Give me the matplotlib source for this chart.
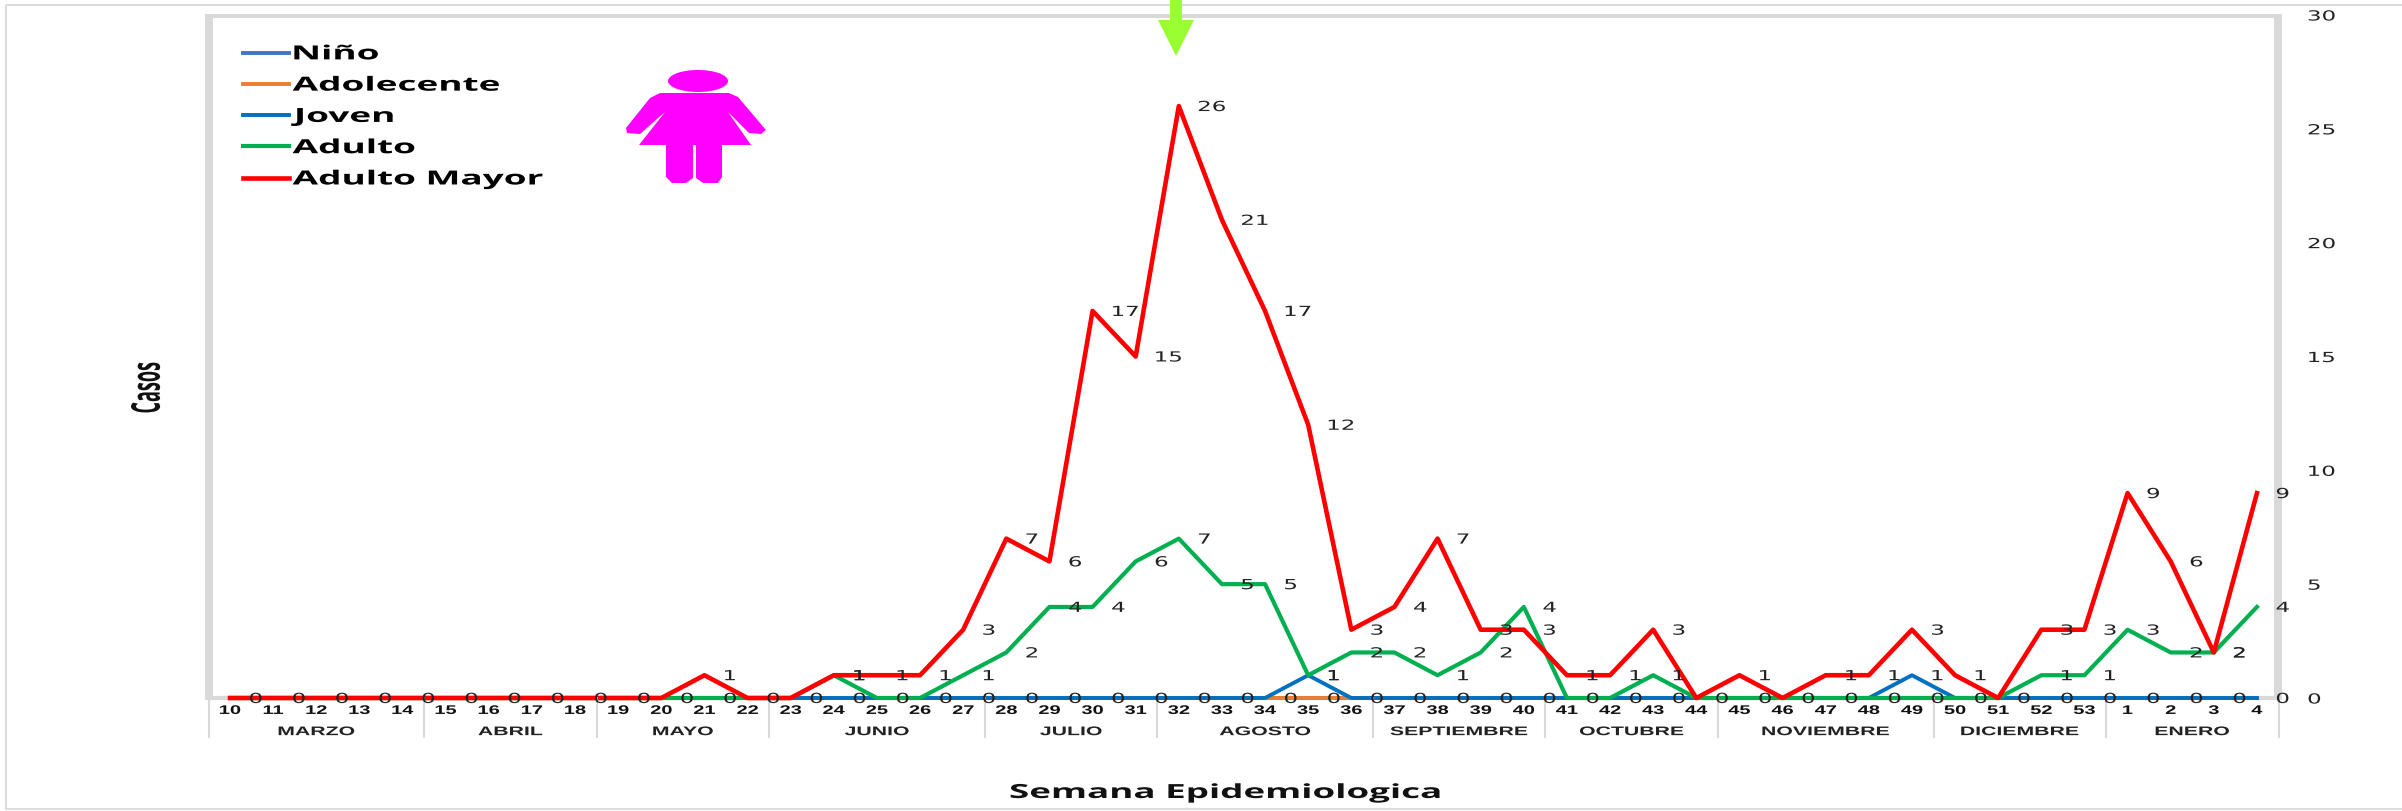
import numpy as np
import matplotlib
matplotlib.use("Agg")
import matplotlib.pyplot as plt
import matplotlib.patheffects as pe
from matplotlib.patches import Polygon, Ellipse, Rectangle
from matplotlib.transforms import Affine2D

weeks = [10, 11, 12, 13, 14, 15, 16, 17, 18, 19, 20, 21, 22, 23, 24, 25, 26, 27, 28, 29, 30, 31, 32, 33,
         34, 35, 36, 37, 38, 39, 40, 41, 42, 43, 44, 45, 46, 47, 48, 49, 50, 51, 52, 53, 1, 2, 3, 4]
months = ["MARZO", "ABRIL", "MAYO", "JUNIO", "JULIO", "AGOSTO", "SEPTIEMBRE", "OCTUBRE", "NOVIEMBRE", "DICIEMBRE", "ENERO"]
month_len = [5, 4, 4, 5, 4, 5, 4, 4, 5, 4, 4]

nino = [0] * 48
adolecente = [0] * 48
joven = [0, 0, 0, 0, 0, 0, 0, 0, 0, 0, 0, 0, 0, 0, 0, 0, 0, 0, 0, 0, 0, 0, 0, 0,
         0, 1, 0, 0, 0, 0, 0, 0, 0, 0, 0, 0, 0, 0, 0, 1, 0, 0, 0, 0, 0, 0, 0, 0]
adulto = [0, 0, 0, 0, 0, 0, 0, 0, 0, 0, 0, 0, 0, 0, 1, 0, 0, 1, 2, 4, 4, 6, 7, 5,
          5, 1, 2, 2, 1, 2, 4, 0, 0, 1, 0, 0, 0, 0, 0, 0, 0, 0, 1, 1, 3, 2, 2, 4]
adulto_mayor = [0, 0, 0, 0, 0, 0, 0, 0, 0, 0, 0, 1, 0, 0, 1, 1, 1, 3, 7, 6, 17, 15, 26, 21,
                17, 12, 3, 4, 7, 3, 3, 1, 1, 3, 0, 1, 0, 1, 1, 3, 1, 0, 3, 3, 9, 6, 2, 9]

W, H = 2402, 811
GRAY = "#d9d9d9"
TXT = "#222222"


# the reference picture was pulled wide, so its text is too
class StretchX(pe.AbstractPathEffect):
    def __init__(self, sx, anchor="center"):
        super().__init__()
        self.sx = sx
        self.anchor = anchor

    def draw_path(self, renderer, gc, tpath, affine, rgbFace=None):
        box = tpath.get_extents(affine)
        x0 = box.x0 if self.anchor == "left" else (box.x0 + box.x1) / 2
        wide = affine + Affine2D().translate(-x0, 0).scale(self.sx, 1).translate(x0, 0)
        renderer.draw_path(gc, tpath, wide, rgbFace)


fig = plt.figure(figsize=(W / 100, H / 100), dpi=100, facecolor="white")

# background layer in pixels: frames
bg = fig.add_axes([0, 0, 1, 1], zorder=0)
bg.set_xlim(0, W)
bg.set_ylim(H, 0)
bg.axis("off")
bg.add_patch(Rectangle((6, 5), W, 804, fill=False, ec="#dcdcdc", lw=1.5))
bg.add_patch(Rectangle((205, 14), 8, 686, fc=GRAY, ec="none"))
bg.add_patch(Rectangle((205, 14), 2077, 3.5, fc=GRAY, ec="none"))
bg.add_patch(Rectangle((2274, 14), 8, 686, fc=GRAY, ec="none"))

ax = fig.add_axes([208.5 / W, 1 - 698 / H, 2070 / W, 683 / H], zorder=2)
ax.patch.set_alpha(0)
x = np.arange(48)
ax.set_xlim(-0.5, 47.5)
ax.set_ylim(0, 30)
for s in ["left", "right", "top"]:
    ax.spines[s].set_visible(False)
ax.spines["bottom"].set_color(GRAY)
ax.spines["bottom"].set_linewidth(3)
ax.spines["bottom"].set_zorder(1)

ax.plot(x, nino, color="#4472c4", lw=2.8, label="Niño", clip_on=False)
ax.plot(x, adolecente, color="#ed7d31", lw=2.8, label="Adolecente", clip_on=False)
ax.plot(x, joven, color="#0070c0", lw=2.8, label="Joven", clip_on=False)
ax.plot(x, adulto, color="#00b050", lw=3, label="Adulto", clip_on=False)
ax.plot(x, adulto_mayor, color="#ff0000", lw=3.3, label="Adulto Mayor", clip_on=False)


def put_labels(vals, skip_zero=True):
    for i, v in enumerate(vals):
        if skip_zero and v == 0:
            continue
        ax.annotate(str(v), (i, v), xytext=(13.7, -0.7), textcoords="offset points",
                    ha="left", va="center", fontsize=10, color=TXT,
                    family="DejaVu Sans", annotation_clip=False,
                    path_effects=[StretchX(1.65, "left")])


put_labels(nino, skip_zero=False)
put_labels(joven)
put_labels(adulto)
put_labels(adulto_mayor)

ax.yaxis.tick_right()
ax.set_yticks(range(0, 31, 5))
ax.tick_params(axis="y", length=0, pad=21, labelsize=10, labelcolor=TXT)
for t in ax.get_yticklabels():
    t.set_path_effects([StretchX(1.65, "left")])
ax.set_xticks(x)
ax.set_xticklabels(weeks, fontsize=9, fontweight="bold", family="Liberation Sans", color="#111111")
ax.tick_params(axis="x", length=0, pad=5)
for t in ax.get_xticklabels():
    t.set_path_effects([StretchX(1.6)])

# month groups under the week labels
pos = 0
trans = ax.get_xaxis_transform()
ax.plot([-0.5, -0.5], [0, -0.057], transform=trans, color=GRAY, lw=1.5, clip_on=False)
for m, n in zip(months, month_len):
    ax.text(pos + (n - 1) / 2, -0.05, m, transform=trans, ha="center", va="center",
            fontsize=9, fontweight="bold", family="Liberation Sans", color="#222222",
            path_effects=[StretchX(1.7)])
    pos += n
    ax.plot([pos - 0.5, pos - 0.5], [0, -0.057], transform=trans, color=GRAY, lw=1.5, clip_on=False)

leg = ax.legend(loc="upper left", bbox_to_anchor=(0.0165, 0.957), frameon=False, handlelength=2.37,
                handletextpad=0.2, labelspacing=0.58, borderaxespad=0, borderpad=0,
                prop={"family": "Open Sans", "weight": "bold", "size": 14})
for t in leg.get_texts():
    t.set_path_effects([StretchX(1.9, "left")])

fig.text(1226 / W, 1 - 793 / H, "Semana Epidemiologica", ha="center", va="center",
         fontsize=14, fontweight="bold", family="Open Sans", color="#111111",
         path_effects=[StretchX(1.89)])
fig.text(147 / W, 1 - 388 / H, "Casos", ha="center", va="center", rotation=90,
         fontsize=13, family="Open Sans", fontweight="bold", color="#111111",
         path_effects=[StretchX(2.2)])

# overlay: arrow and woman icon, in pixels
top = fig.add_axes([0, 0, 1, 1], zorder=3)
top.set_xlim(0, W)
top.set_ylim(H, 0)
top.axis("off")
top.patch.set_alpha(0)
top.add_patch(Polygon([(1170, 0), (1182, 0), (1182, 20), (1194, 20), (1176, 56), (1158, 20), (1170, 20)],
                      closed=True, fc="#99ff33", ec="none"))
pink = "#ff00ff"
top.add_patch(Ellipse((698, 81), 60, 22, fc=pink, ec="none"))
top.add_patch(Polygon([(660, 93), (650, 98), (626, 128), (627, 133), (640, 134), (665, 112), (639, 145), (666, 145),
                       (666, 177), (672, 183), (686, 183), (693, 178), (693, 145), (696, 145), (696, 178),
                       (703, 183), (718, 183), (722, 177), (722, 145), (751, 145), (728, 112), (749, 133),
                       (761, 134), (766, 130), (738, 97), (729, 93)],
                      closed=True, fc=pink, ec="none"))

fig.savefig("out.png", dpi=100)
